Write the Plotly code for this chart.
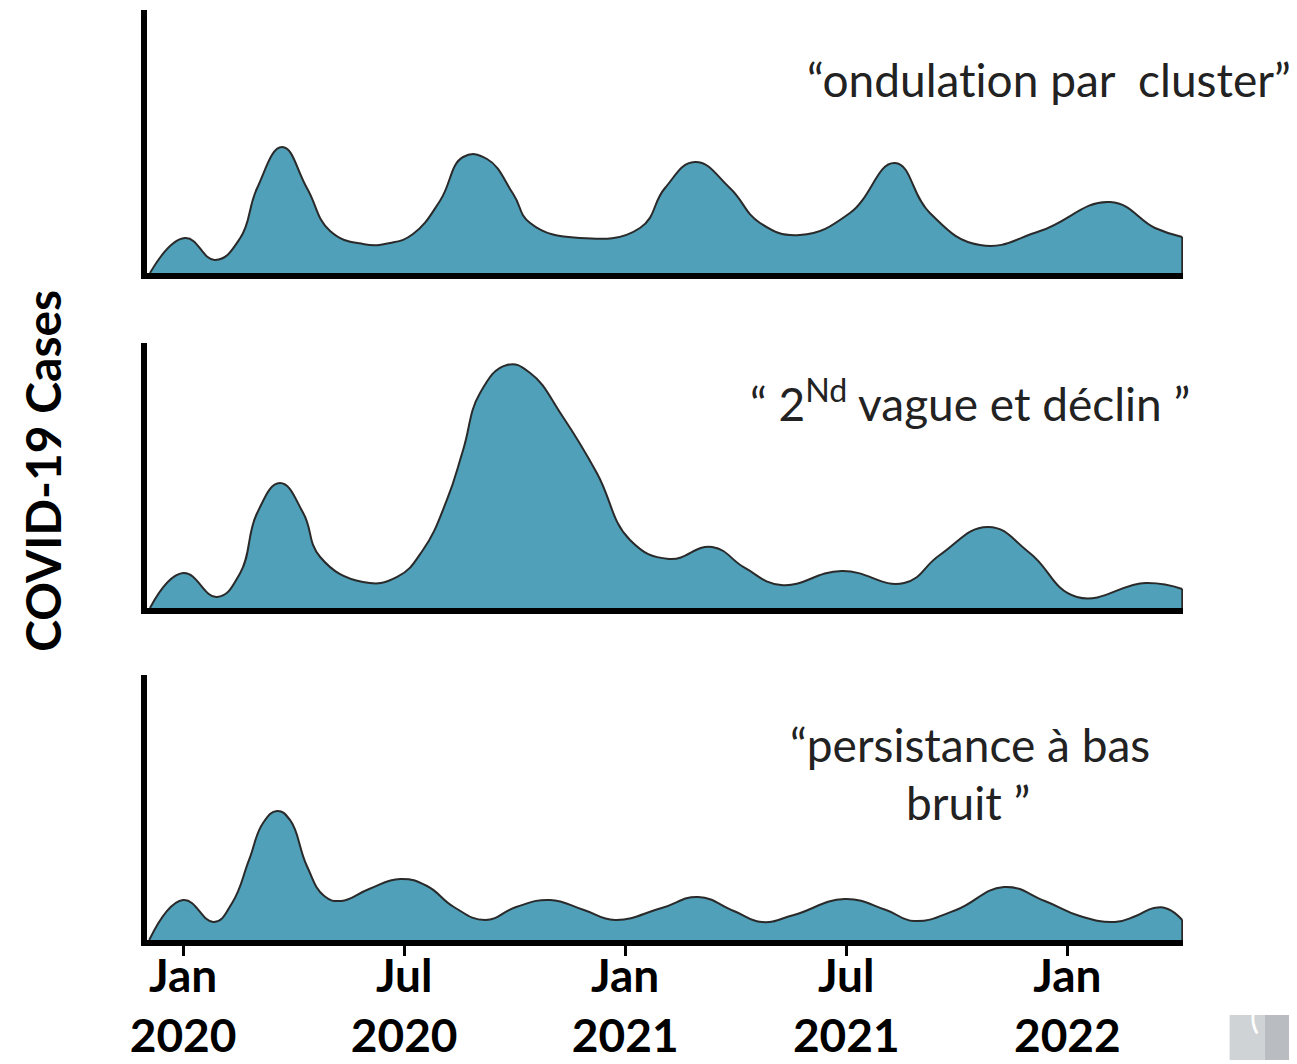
import plotly.graph_objects as go

# ---- data (x in months since Jan 2020, y in arbitrary case units) ----
months_cluster = [-0.90, 0.05, 0.87, 1.55, 2.01, 2.69, 3.36, 3.99, 4.88, 5.62, 6.24, 6.97, 7.60, 8.25,
                  8.96, 9.42, 10.77, 12.40, 13.08, 13.89, 14.84, 15.66, 16.74, 18.10, 19.32, 20.27,
                  21.63, 23.26, 25.16, 26.38, 27.12]
cases_cluster = [0, 35, 13, 35, 85, 126, 85, 42, 29, 30, 39, 72, 116, 114,
                 79, 50, 35, 45, 85, 111, 85, 50, 38, 60, 110, 60,
                 28, 42, 71, 45, 36]

months_wave = [-0.90, 0.0, 0.92, 1.55, 2.01, 2.63, 3.26, 3.72, 4.88, 5.81, 6.51, 7.16, 7.60, 8.06,
               8.79, 9.42, 10.31, 11.23, 12.13, 13.19, 14.36, 15.25, 16.23, 17.88, 19.57, 20.54,
               21.85, 22.98, 24.26, 26.13, 27.12]
cases_wave = [0, 35, 11, 35, 95, 125, 95, 51, 26, 31, 58, 108, 158, 215,
              243, 235, 191, 135, 68, 49, 61, 40, 23, 37, 25, 53,
              81, 55, 11, 25, 19]

months_low = [-0.92, 0.0, 0.84, 1.33, 1.79, 2.17, 2.55, 2.90, 3.36, 3.83, 4.29, 5.05, 5.89, 6.62,
              7.35, 8.20, 9.04, 9.96, 10.88, 11.72, 12.99, 13.98, 14.95, 15.71, 16.58, 17.96,
              19.08, 19.84, 20.98, 22.28, 23.39, 24.34, 25.29, 25.86, 26.35, 26.73, 27.12]
cases_low = [0, 40, 18, 37, 80, 117, 129, 120, 74, 44, 39, 51, 61, 54,
             33, 20, 33, 40, 30, 20, 32, 43, 29, 18, 25, 41,
             30, 19, 30, 53, 39, 24, 18, 24, 32, 31, 20]

tick_vals = [0, 6, 12, 18, 24]
tick_text = ["Jan<br>2020", "Jul<br>2020", "Jan<br>2021", "Jul<br>2021", "Jan<br>2022"]

labels = ["\u201condulat\u200cion par  cluster\u201d",
          "\u201c 2<sup>Nd</sup> vague et d\u00e9clin \u201d",
          "\u201cpersistance \u00e0 bas",
          "bruit \u201d"]
y_title = "COVID-19 Cases"

FILL = "#50A0B9"
EDGE = "#2a2a2a"

panels = [(months_cluster, cases_cluster, "x", "y"),
          (months_wave, cases_wave, "x2", "y2"),
          (months_low, cases_low, "x3", "y3")]

fig = go.Figure()
for mx, cy, xa, ya in panels:
    fig.add_trace(go.Scatter(x=mx, y=cy, mode="lines", fill="tozeroy", fillcolor=FILL,
                             line=dict(color=EDGE, width=2, shape="spline", smoothing=1.3),
                             xaxis=xa, yaxis=ya, showlegend=False, hoverinfo="skip"))
    # right closing edge of the area
    fig.add_trace(go.Scatter(x=[mx[-1], mx[-1]], y=[cy[-1], 0], mode="lines",
                             line=dict(color=EDGE, width=2), xaxis=xa, yaxis=ya,
                             showlegend=False, hoverinfo="skip"))

XR = [-0.98, 27.14]
common_x = dict(range=XR, showline=True, linewidth=6, linecolor="black", showgrid=False,
                zeroline=False, mirror=False, automargin=False)
common_y = dict(showline=True, linewidth=6, linecolor="black", showgrid=False, zeroline=False,
                showticklabels=False, ticks="", automargin=False)

fig.update_layout(
    width=1289, height=1056,
    margin=dict(l=139, r=114, t=2, b=124),
    paper_bgcolor="white", plot_bgcolor="white",
    xaxis=dict(**common_x, anchor="y", showticklabels=False, ticks=""),
    xaxis2=dict(**common_x, anchor="y2", showticklabels=False, ticks="", matches="x"),
    xaxis3=dict(**common_x, anchor="y3", tickmode="array", tickvals=tick_vals, ticktext=tick_text,
                ticks="outside", ticklen=10, tickwidth=3, tickcolor="black", matches="x",
                ticklabelstandoff=-19,
                tickfont=dict(family="Lato", size=46, color="black", weight="bold")),
    yaxis=dict(**common_y, domain=[0.7172, 1.0], range=[0, 263]),
    yaxis2=dict(**common_y, domain=[0.357, 0.642], range=[0, 265]),
    yaxis3=dict(**common_y, domain=[0.0, 0.285], range=[0, 265]),
)

txt_font = dict(family="Lato", size=46, color="#222222")
fig.add_annotation(text=labels[0], xref="paper", yref="paper", x=0.871, y=0.925,
                   showarrow=False, font=txt_font, xanchor="center", yanchor="middle")
fig.add_annotation(text=labels[1], xref="paper", yref="paper", x=0.794, y=0.58,
                   showarrow=False, font=txt_font, xanchor="center", yanchor="middle")
fig.add_annotation(text=labels[2], xref="paper", yref="paper", x=0.794, y=0.2097,
                   showarrow=False, font=txt_font, xanchor="center", yanchor="middle")
fig.add_annotation(text=labels[3], xref="paper", yref="paper", x=0.792, y=0.148,
                   showarrow=False, font=txt_font, xanchor="center", yanchor="middle")
fig.add_annotation(text=y_title, xref="paper", yref="paper", x=-0.101, y=0.505, textangle=-90,
                   showarrow=False, xanchor="center", yanchor="middle",
                   font=dict(family="Lato", size=48, color="black", weight="bold"))

# cropped grey badge at the bottom-right corner
fig.add_shape(type="rect", xref="paper", yref="paper", x0=1.045, x1=1.079, y0=-0.129, y1=-0.0806,
              fillcolor="#cfd3d6", line=dict(width=0))
fig.add_shape(type="rect", xref="paper", yref="paper", x0=1.079, x1=1.11, y0=-0.129, y1=-0.0806,
              fillcolor="#b9bdc1", line=dict(width=0))
fig.add_annotation(text="(", xref="paper", yref="paper", x=1.075, y=-0.105, showarrow=False,
                   font=dict(family="Lato", size=34, color="white"))

fig.write_html("out.html")
